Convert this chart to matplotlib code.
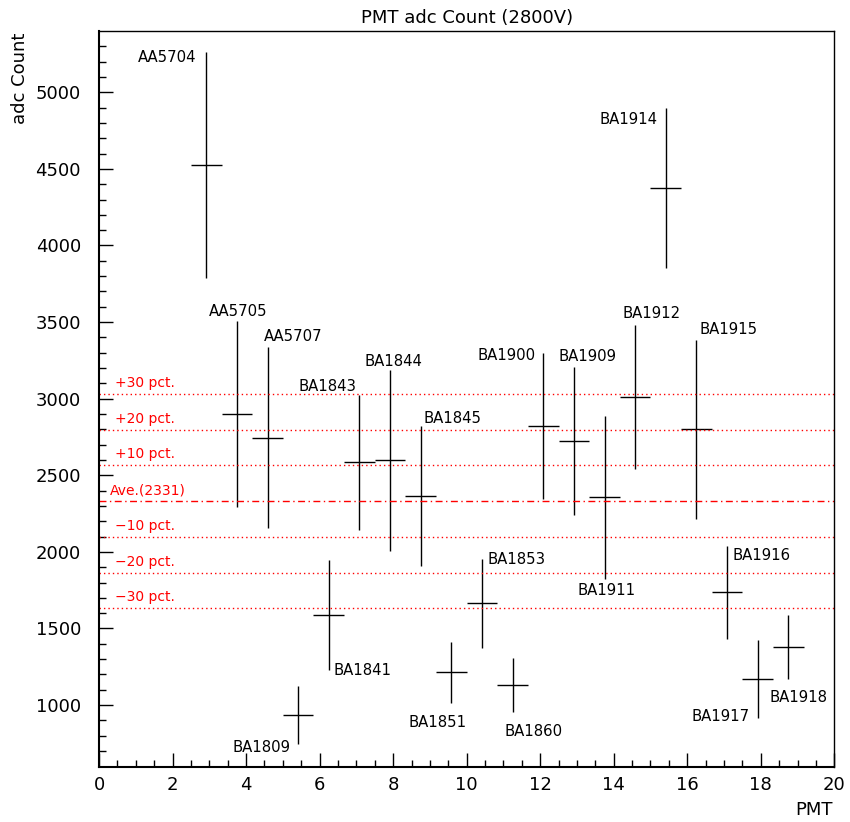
import numpy as np
import matplotlib
matplotlib.use("Agg")
import matplotlib.pyplot as plt

# PMT names, positions on the axis, adc counts and errors
pmt_names = ["AA5704", "AA5705", "AA5707", "BA1809", "BA1841", "BA1843", "BA1844",
             "BA1845", "BA1851", "BA1853", "BA1860", "BA1900", "BA1909", "BA1911",
             "BA1912", "BA1914", "BA1915", "BA1916", "BA1917", "BA1918"]
pmt_x = [2.917, 3.75, 4.583, 5.417, 6.25, 7.083, 7.917, 8.75, 9.583, 10.417,
         11.25, 12.083, 12.917, 13.75, 14.583, 15.417, 16.25, 17.083, 17.917, 18.75]
adc = [4526, 2900, 2746, 935, 1590, 2584, 2597, 2364, 1215, 1664,
       1131, 2822, 2723, 2356, 3010, 4375, 2800, 1736, 1170, 1379]
adc_err = [739, 605, 592, 190, 359, 440, 592, 457, 199, 292,
           177, 476, 481, 530, 470, 522, 584, 305, 256, 207]
x_half = 0.4167

# where each name goes: end of the bar, shift in pixels
lab_end = ["hi", "hi", "hi", "lo", "lo", "hi", "hi", "hi", "lo", "hi",
           "lo", "hi", "hi", "lo", "hi", "hi", "hi", "hi", "lo", "lo"]
lab_dx = [-39, 1, 26, -37, 34, -32, 3, 32, -14, 35, 21, -37, 14, 2, 16, -37, 32, 35, -37, 10]
lab_dy = [-5, 11, 11, -2, 0, 10, 9, 9, -19, 0, -18, -1, 12, -11, 13, -10, 11, -9, 3, -18]

pcts = [30, 20, 10, -10, -20, -30]

ave = round(np.mean(adc))

fig = plt.figure(figsize=(8.5, 8.22), dpi=100)
ax = fig.add_axes([0.1165, 0.0673, 0.865, 0.8946])

ax.errorbar(pmt_x, adc, xerr=x_half, yerr=adc_err, fmt="none",
            ecolor="black", elinewidth=1.0, capsize=0)

# average and percent lines
ax.axhline(ave, color="red", lw=1.0, ls=(0, (5, 2.5, 1, 2.5)))
ax.annotate("Ave.(%d)" % ave, (0.3, ave), xytext=(0, 11), textcoords="offset pixels",
            color="red", fontsize=10, ha="left", va="center")
for p in pcts:
    yv = ave * (1 + p / 100.0)
    ax.axhline(yv, color="red", lw=1.0, ls=(0, (1, 2.2)))
    txt = ("+%d pct." % p) if p > 0 else ("\u2212%d pct." % -p)
    ax.annotate(txt, (0.43, yv), xytext=(0, 11), textcoords="offset pixels",
                color="red", fontsize=10, ha="left", va="center")

# names next to the bars
for i, name in enumerate(pmt_names):
    if lab_end[i] == "hi":
        yv = adc[i] + adc_err[i]
    else:
        yv = adc[i] - adc_err[i]
    ax.annotate(name, (pmt_x[i], yv), xytext=(lab_dx[i], lab_dy[i] - 5.5),
                textcoords="offset pixels", fontsize=10.7, ha="center", va="baseline")

ax.set_xlim(0, 20)
ax.set_ylim(598, 5398)
ax.set_xticks(np.arange(0, 21, 2))
ax.set_xticks(np.arange(0, 20.01, 0.5), minor=True)
ax.set_yticks(np.arange(1000, 5001, 500))
ax.set_yticks(np.arange(700, 5301, 100), minor=True)
ax.tick_params(which="both", direction="in", top=False, right=False, labelsize=13)
ax.tick_params(which="major", length=10, width=1)
ax.tick_params(which="minor", length=5, width=1)
ax.tick_params(axis="x", pad=7)
ax.tick_params(axis="y", pad=13)
ax.spines["left"].set_linewidth(1.5)
ax.spines["bottom"].set_linewidth(1.5)
ax.spines["top"].set_linewidth(1.0)
ax.spines["right"].set_linewidth(1.0)

ax.set_title("PMT adc Count (2800V)", fontsize=13, pad=6)
fig.text(20.5 / 850, 1 - 33 / 822, "adc Count", rotation=90, fontsize=13, ha="center", va="top")
fig.text(833 / 850, 1 - 810 / 822, "PMT", fontsize=13, ha="right", va="center")

fig.savefig("out.png", dpi=100)
